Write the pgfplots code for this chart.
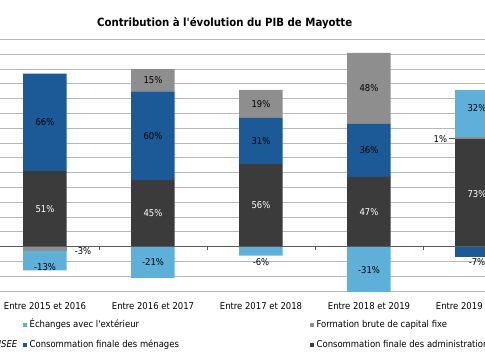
\documentclass[border=0pt]{standalone}
\usepackage{pgfplots}
\pgfplotsset{compat=1.18}
\usepackage{fontspec}
\setmainfont{DejaVu Sans Condensed}[Ligatures=TeXOff]
\definecolor{cEch}{HTML}{5EB0D8}
\definecolor{cFBCF}{HTML}{8E8E8E}
\definecolor{cMen}{HTML}{1B5A97}
\definecolor{cAdm}{HTML}{3B3B3B}
\definecolor{cGrid}{HTML}{B8B8B8}
\definecolor{cZero}{HTML}{5A5A5A}
\newcommand{\lblfont}{\fontsize{9.4}{11}\selectfont}
\tikzset{lbl/.style={font=\lblfont, text=black, inner sep=0pt}}
\begin{document}
\begin{tikzpicture}[x=1pt,y=1pt]
\useasboundingbox (0,0) rectangle (485,360);
\clip (0,0) rectangle (485,360);
\pgfplotsset{
  base/.style={
    scale only axis, width=540pt, height=251.6pt,
    at={(-9pt,68.9pt)}, anchor=south west,
    xmin=-0.5, xmax=4.5, ymin=-30, ymax=140,
    ybar stacked, bar width=43.5pt,
    axis line style={draw=none}, tick style={draw=none},
    ytick={-30,-20,...,140}, yticklabels={},
    xtick={0,1,2,3,4},
  },
}
% positive parts
\begin{axis}[base, ymajorgrids, grid style={cGrid, line width=1.1pt},
  xticklabels={Entre 2015 et 2016, Entre 2016 et 2017, Entre 2017 et 2018, Entre 2018 et 2019, Entre 2019 et 2020},
  xticklabel style={font=\lblfont, text=black, yshift=-8pt},
]
\addplot[fill=cAdm, draw=none] coordinates {(0,51) (1,45) (2,56) (3,47) (4,73)};
\addplot[fill=cMen, draw=none] coordinates {(0,66) (1,60) (2,31) (3,36) (4,0)};
\addplot[fill=cFBCF, draw=none] coordinates {(0,0) (1,15) (2,19) (3,48) (4,1)};
\addplot[fill=cEch, draw=none] coordinates {(0,0) (1,0) (2,0) (3,0) (4,32)};
\end{axis}
% negative parts
\begin{axis}[base, xticklabels={}]
\addplot[fill=cFBCF, draw=none] coordinates {(0,-3) (1,0) (2,0) (3,0) (4,0)};
\addplot[fill=cEch, draw=none] coordinates {(0,-13) (1,-21) (2,-6) (3,-31) (4,0)};
\addplot[fill=cMen, draw=none] coordinates {(0,0) (1,0) (2,0) (3,0) (4,-7)};
\end{axis}
% zero line, ticks, data labels
\begin{axis}[base, xticklabels={}]
\draw[cZero, line width=1.2pt] (axis cs:-0.5,0) -- (axis cs:4.5,0);
\pgfplotsinvokeforeach{0.5,1.5,2.5,3.5}{\draw[cZero, line width=0.8pt] (axis cs:#1,0) -- ([yshift=-3pt]axis cs:#1,0);}
\node[lbl] at (axis cs:0,84) {66\%};
\node[lbl,text=white] at (axis cs:0,25.5) {51\%};
\node[lbl] at (axis cs:0.352,-2.7) {-3\%};
\node[lbl] at (axis cs:0,-14) {-13\%};
\node[lbl] at (axis cs:1,112.5) {15\%};
\node[lbl] at (axis cs:1,75) {60\%};
\node[lbl,text=white] at (axis cs:1,22.5) {45\%};
\node[lbl] at (axis cs:1,-10.5) {-21\%};
\node[lbl] at (axis cs:2,96.5) {19\%};
\node[lbl] at (axis cs:2,71.5) {31\%};
\node[lbl,text=white] at (axis cs:2,28) {56\%};
\node[lbl] at (axis cs:2,-10.1) {-6\%};
\node[lbl] at (axis cs:3,107) {48\%};
\node[lbl] at (axis cs:3,65) {36\%};
\node[lbl,text=white] at (axis cs:3,23.5) {47\%};
\node[lbl] at (axis cs:3,-16) {-31\%};
\node[lbl] at (axis cs:4,93.5) {32\%};
\node[lbl,text=white] at (axis cs:4,35.6) {73\%};
\node[lbl] at (axis cs:4,-10.3) {-7\%};
\node[lbl,anchor=east] at (axis cs:3.725,72.5) {1\%};
\draw[cZero, line width=0.8pt] (axis cs:3.745,73.2) -- (axis cs:3.799,73.2);
\end{axis}
% title
\node[anchor=base, inner sep=0pt, font=\fontsize{11.3}{13}\selectfont\bfseries] at (224.7,333.3) {Contribution à l'évolution du PIB de Mayotte};
% legend
\fill[cEch] (22.5,32.8) rectangle ++(4.5,4.5);
\node[lbl, anchor=base west] at (29.5,32.7) {Échanges avec l'extérieur};
\fill[cFBCF] (309.5,32.8) rectangle ++(4.5,4.5);
\node[lbl, anchor=base west] at (316.5,32.7) {Formation brute de capital fixe};
\fill[cMen] (22.5,12.8) rectangle ++(4.5,4.5);
\node[lbl, anchor=base west] at (29.5,12.7) {Consommation finale des ménages};
\fill[cAdm] (309.5,12.8) rectangle ++(4.5,4.5);
\node[lbl, anchor=base west] at (316.5,12.7) {Consommation finale des administrations publiques};
\node[lbl, anchor=base east, font=\lblfont\itshape] at (17.5,12.7) {Source : INSEE};
\end{tikzpicture}
\end{document}
